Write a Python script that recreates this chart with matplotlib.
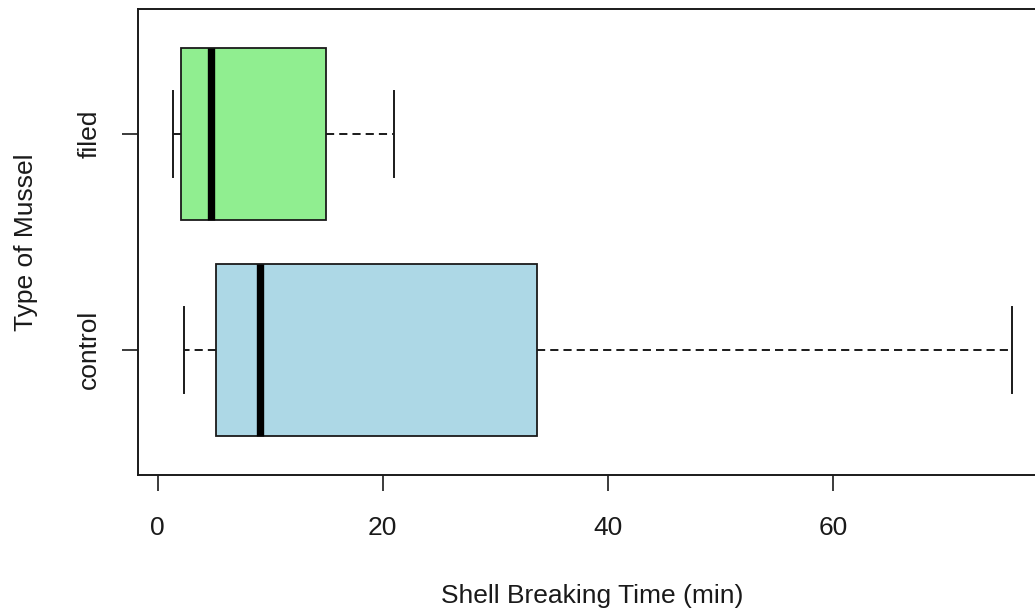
import matplotlib
matplotlib.use("Agg")
import matplotlib.pyplot as plt

# boxplot summary (minutes)
groups = ["control", "filed"]
whisker_lo = [2.3, 1.4]
q1 = [5.2, 2.1]
medians = [9.1, 4.75]
q3 = [33.7, 14.95]
whisker_hi = [75.9, 21.0]
box_colors = ["#ADD8E6", "#90EE90"]
x_ticks = [0, 20, 40, 60]

plt.rcParams["font.family"] = ["Liberation Sans", "DejaVu Sans"]

fig = plt.figure(figsize=(10.35, 6.11), dpi=100)
ax = fig.add_axes([0.1333, 0.2226, 0.877, 0.7627])

stats = []
for g, lo, a, m, b, hi in zip(groups, whisker_lo, q1, medians, q3, whisker_hi):
    stats.append(dict(label=g, whislo=lo, q1=a, med=m, q3=b, whishi=hi, fliers=[]))

bp = ax.bxp(stats, positions=[1, 2], widths=0.8, vert=False, patch_artist=True,
            showfliers=False,
            boxprops=dict(edgecolor="#1a1a1a", linewidth=1.3),
            medianprops=dict(color="black", linewidth=5.3, solid_capstyle="butt"),
            whiskerprops=dict(color="#1a1a1a", linewidth=1.4, linestyle=(0, (4.2, 2.6))),
            capprops=dict(color="#1a1a1a", linewidth=1.4),
            capwidths=0.4)
for patch, c in zip(bp["boxes"], box_colors):
    patch.set_facecolor(c)

ax.set_ylim(0.42, 2.58)
ax.set_xlim(-1.75, 78.9)
ax.set_xticks(x_ticks)
ax.set_xticklabels([str(t) for t in x_ticks])
ax.set_yticks([1, 2])
ax.set_yticklabels(groups, rotation=90, va="center")

for s in ax.spines.values():
    s.set_linewidth(1.4)
    s.set_color("#1a1a1a")

ax.tick_params(axis="both", length=11.5, width=1.2, color="#1a1a1a",
               labelsize=19, labelcolor="#1a1a1a")
ax.tick_params(axis="x", pad=18)
ax.tick_params(axis="y", pad=15)

ax.set_xlabel("Shell Breaking Time (min)", fontsize=19, color="#1a1a1a", labelpad=32)
ax.set_ylabel("Type of Mussel", fontsize=19, color="#1a1a1a", labelpad=28)

fig.savefig("out.png", dpi=100)
